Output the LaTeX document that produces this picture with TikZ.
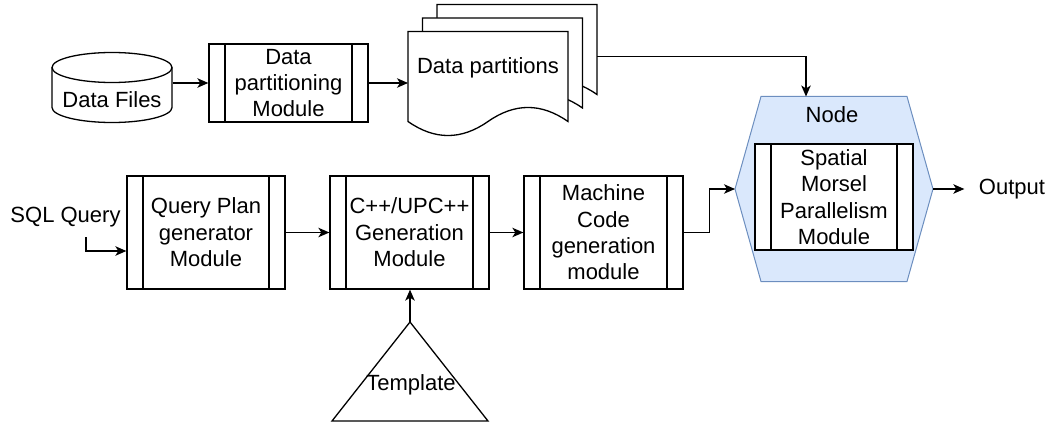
\documentclass[tikz,border=0pt]{standalone}
\usepackage{fontspec}
\setmainfont{Liberation Sans}
\usetikzlibrary{arrows.meta,calc}
\definecolor{nodefill}{HTML}{DAE8FC}
\definecolor{nodeline}{HTML}{6C8EBF}

% one page of the stacked document symbol, given its top-left corner
\newcommand\docsheet[2]{%
  \draw[fill=white] (#1,#2) -- ++(160,0) -- ++(0,90)
    .. controls ++(-26.7,-18.7) and ++(26.7,-18.7) .. ++(-80,0)
    .. controls ++(-26.7,18.7) and ++(26.7,18.7) .. ++(-80,0) -- cycle;}

\tikzset{
  lbl/.style={font=\fontsize{22}{26.4}\selectfont, align=center, inner sep=0pt},
  procbox/.style={draw, fill=white, lbl, minimum width=158pt, minimum height=113pt,
    path picture={
      \draw ([xshift=16pt]path picture bounding box.north west) -- ([xshift=16pt]path picture bounding box.south west);
      \draw ([xshift=-16pt]path picture bounding box.north east) -- ([xshift=-16pt]path picture bounding box.south east);
    }},
  ghost/.style={inner sep=0pt, outer sep=0pt},
  flow/.style={-{Stealth[length=11pt,width=9.5pt,inset=3pt]}},
}

\begin{document}
\begin{tikzpicture}[x=1pt, y=-1pt, line width=1.3pt]
\useasboundingbox (0,0) rectangle (1050,425);

% ---- top row: data files, partitioning, partitions ----
% cylinder: body with lower rim, then the full top ellipse
\draw[fill=white] (52,67.5) -- (52,107.5) arc[start angle=180, end angle=0, x radius=60, y radius=15]
  -- (172,67.5);
\draw[fill=white] (112,67.5) ellipse[x radius=60, y radius=15];
\node[lbl, minimum width=120pt, minimum height=40pt] (files) at (112,99.5) {Data Files};

\node[procbox, minimum width=159pt, minimum height=78pt] (dp) at (288.5,83) {Data\\partitioning\\Module};

\node[ghost, minimum width=160pt, minimum height=104pt] (sheet3) at (517,56.5) {};
\node[ghost, minimum width=160pt, minimum height=104pt] (sheet1) at (488,83.5) {};
\docsheet{437}{4.5}
\docsheet{422.5}{18}
\docsheet{408}{31.5}
\node[lbl] (parts) at (488,68) {Data partitions};

% ---- compute node ----
\node[ghost, minimum width=198pt, minimum height=185pt] (hex) at (834,189) {};
\draw[draw=nodeline, fill=nodefill, line width=1pt]
  (hex.west) -- ([xshift=26pt]hex.north west) -- ([xshift=-26pt]hex.north east)
  -- (hex.east) -- ([xshift=-26pt]hex.south east) -- ([xshift=26pt]hex.south west) -- cycle;
\node[lbl] (hexlabel) at (832,115) {Node};
\node[procbox, minimum width=158pt, minimum height=106pt] (spm) at (834,197)
  {Spatial\\Morsel\\Parallelism\\Module};
\node[lbl] (output) at (1012,189) {Output};

% ---- bottom row: code generation pipeline ----
\node[lbl] (sql) at (65.5,217.3) {SQL Query};
\coordinate (sqlin) at (86,237);
\node[procbox] (qp) at (206,232.5) {Query Plan\\generator\\Module};
\node[procbox, minimum width=159pt] (cpp) at (409.5,232.5) {C++/UPC++\\Generation\\Module};
\node[procbox, minimum width=159pt] (mc) at (603.5,232.5) {Machine\\Code\\generation\\module};

\node[ghost, minimum width=156pt, minimum height=99pt] (tri) at (410,371.5) {};
\draw (tri.south west) -- (tri.north) -- (tri.south east) -- cycle;
\node[lbl] (tpl) at (411,385.3) {Template};

% ---- connectors ----
\draw[flow] (files.east |- dp.west) -- (dp.west);
\draw[flow] (dp.east) -- (dp.east -| sheet1.west);
\draw[flow] (sheet3.east) -| ([xshift=-28pt]hex.north);
\draw[flow] (sqlin) |- ([yshift=-18.5pt]qp.west);
\draw[flow] (qp.east) -- (cpp.west);
\draw[flow] (cpp.east) -- (mc.west);
\draw[flow] (tri.north) -- (tri.north |- cpp.south);
\draw[flow] (mc.east) -- ++(26,0) |- (hex.west);
\draw[flow] (hex.east) -- ([xshift=-14pt]output.west);
\end{tikzpicture}
\end{document}
